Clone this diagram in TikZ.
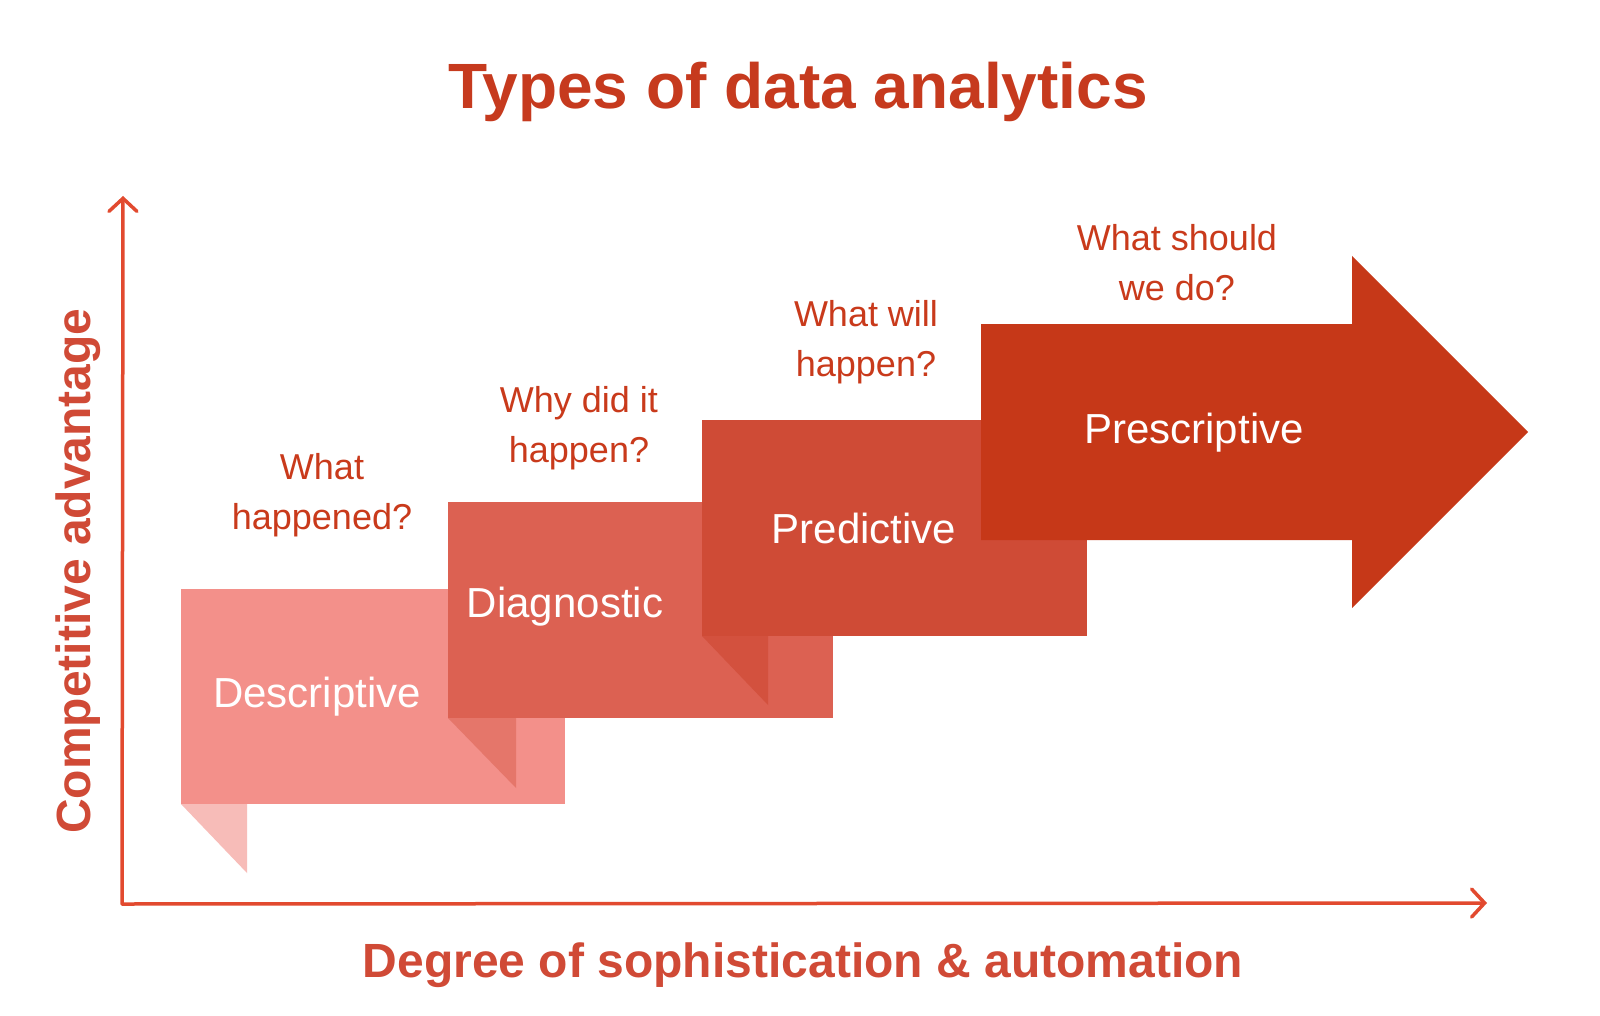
\documentclass[tikz,border=0pt]{standalone}
\usepackage{fontspec}
\setmainfont{Liberation Sans}
\usetikzlibrary{arrows.meta}
\definecolor{descC}{HTML}{F3908A}
\definecolor{descFold}{HTML}{F7BCB8}
\definecolor{diagC}{HTML}{DC6152}
\definecolor{diagFold}{HTML}{E5766A}
\definecolor{predC}{HTML}{CF4B36}
\definecolor{predFold}{HTML}{D3513E}
\definecolor{prescC}{HTML}{C63818}
\definecolor{questC}{HTML}{C93A1B}
\definecolor{labelC}{HTML}{D04A36}
\definecolor{titleC}{HTML}{C63A1E}
\definecolor{axisC}{HTML}{E24A2F}
\tikzset{
  question/.style={text=questC, inner sep=0pt, align=center, anchor=base,
    font=\fontsize{36}{50}\selectfont},
  boxlabel/.style={text=white, inner sep=0pt, anchor=base,
    font=\fontsize{42}{50}\selectfont},
  axislabel/.style={text=labelC, inner sep=0pt, anchor=base,
    font=\fontsize{48}{56}\selectfont\bfseries},
  axisline/.style={draw=axisC, line width=3.5pt, line cap=round, line join=round,
    {Straight Barb[length=13pt,width=28pt,line cap=round]}-{Straight Barb[length=13pt,width=28pt,line cap=round]}},
}
\begin{document}
\begin{tikzpicture}[x=1pt,y=-1pt]
\fill[white] (0,0) rectangle (1600,1016);
\useasboundingbox (0,0) rectangle (1600,1016);

% title
\node[text=titleC, inner sep=0pt, anchor=base, font=\fontsize{64}{70}\selectfont\bfseries] (title) at (798,109) {Types of data analytics};

% axes
\coordinate (ytip) at (123,196);
\coordinate (origin) at (122,904);
\coordinate (xtip) at (1487,903);
\draw[axisline] (ytip) -- (origin) -- (xtip);

% descriptive
\fill[descFold] (181,804) -- (247,804) -- (247,873) -- cycle;
\fill[descC] (181,589) rectangle (565,804);
% diagnostic
\fill[diagFold] (448,718) -- (516,718) -- (516,788) -- cycle;
\fill[diagC] (448,502) rectangle (833,718);
% predictive
\fill[predFold] (702,636) -- (768,636) -- (768,705) -- cycle;
\fill[predC] (702,420) rectangle (1087,636);
% prescriptive arrow
\fill[prescC] (981,324) -- (1352,324) -- (1352,256) -- (1528,432) -- (1352,608) -- (1352,540) -- (981,540) -- cycle;

% box labels
\node[boxlabel] (desc) at (317,707) {Descriptive};
\node[boxlabel] (diag) at (565,617) {Diagnostic};
\node[boxlabel] (pred) at (864,543) {Predictive};
\node[boxlabel] (presc) at (1194,443) {Prescriptive};

% questions (anchor=base is the baseline of the last line)
\node[question] (q1) at (322,529) {What\\happened?};
\node[question] (q2) at (579,462) {Why did it\\happen?};
\node[question] (q3) at (866,376) {What will\\happen?};
\node[question] (q4) at (1177,300) {What should\\we do?};

% axis labels
\node[axislabel] (xlabel) at (803,977) {Degree of sophistication \& automation};
\node[axislabel, rotate=90] (ylabel) at (90,571) {Competitive advantage};
\end{tikzpicture}
\end{document}
